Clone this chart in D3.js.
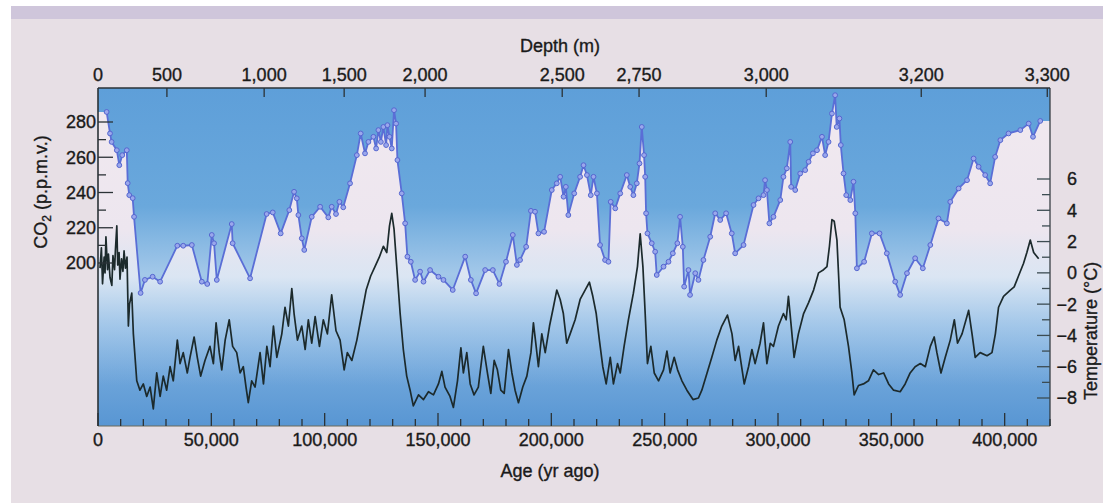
<!DOCTYPE html>
<html>
<head>
<meta charset="utf-8">
<script src="https://cdn.jsdelivr.net/npm/d3@7"></script>
<style>
  html, body { margin: 0; padding: 0; background: #ffffff; }
  svg { display: block; }
  text { font-family: "Liberation Sans", Arial, Helvetica, sans-serif; fill: #1a1a1a;
         stroke: #1a1a1a; stroke-width: 0.35px; }
</style>
</head>
<body>
<svg id="chart" width="1103" height="503"></svg>
<script>
// Vostok ice core record: atmospheric CO2 (dots) and temperature anomaly (black line)
// Ages are in thousands of years before present.

const co2Age = [
  3.8, 5.3, 6.0, 8.3, 9.4, 10.7, 12.7, 13.1, 13.8, 15.3,
  15.9, 18.8, 20.7, 24.1, 27.4, 35.0, 37.6, 41.4, 45.8, 48.2,
  50.2, 51.2, 52.4, 59.0, 59.4, 67.1, 74.4, 77.1, 80.6, 84.4,
  86.5, 87.7, 88.4, 89.9, 91.0, 94.3, 98.0, 101.6, 103.1, 105.0,
  106.5, 108.2, 111.2, 114.2, 115.9, 117.8, 119.3, 121.5, 122.7, 123.7,
  124.8, 125.9, 127.1, 127.7, 128.6, 129.6, 130.6, 131.5, 132.1, 134.0,
  135.5, 136.5, 138.0, 139.9, 142.1, 143.6, 146.5, 150.2, 152.4, 156.5,
  162.0, 164.5, 166.8, 170.8, 174.2, 177.1, 180.0, 183.0, 184.8, 186.2,
  188.9, 191.0, 192.8, 194.3, 196.8, 200.2, 202.4, 203.9, 205.4, 206.4,
  207.5, 210.1, 212.7, 214.2, 215.7, 217.4, 218.6, 220.1, 221.5, 223.7,
  225.2, 226.2, 228.2, 230.4, 233.3, 234.8, 236.2, 237.7, 238.9, 239.9,
  240.9, 241.4, 241.8, 242.4, 244.3, 245.8, 246.5, 249.5, 251.7, 253.6,
  255.6, 256.8, 258.0, 258.6, 260.5, 261.2, 263.5, 264.9, 267.1, 270.1,
  272.3, 274.5, 277.1, 279.6, 281.1, 284.8, 289.2, 291.4, 293.6, 294.3,
  295.1, 296.2, 298.0, 301.0, 302.4, 303.9, 305.4, 305.8, 307.6, 309.8,
  312.0, 313.5, 315.4, 317.2, 319.4, 320.8, 322.3, 323.8, 325.2, 325.9,
  327.1, 327.7, 328.9, 330.1, 331.9, 333.3, 334.1, 334.8, 338.0, 341.4,
  344.8, 348.0, 351.7, 353.9, 356.9, 360.5, 363.9, 367.2, 370.8, 374.5,
  376.0, 379.7, 383.4, 386.3, 388.5, 391.4, 393.6, 395.8, 398.1, 401.7,
  406.9, 410.6, 412.5, 415.7
];

const co2Ppmv = [
  285.7, 273.5, 268.7, 264.0, 255.5, 261.2, 264.0, 245.3, 238.5, 236.8,
  226.2, 183.0, 190.4, 192.2, 189.4, 209.8, 209.8, 210.2, 189.4, 188.1,
  215.9, 211.2, 190.4, 222.1, 211.2, 191.3, 227.8, 228.7, 216.8, 230.0,
  240.4, 236.7, 227.2, 214.0, 207.4, 226.2, 231.9, 225.9, 231.9, 227.8,
  234.7, 231.6, 245.2, 261.2, 273.5, 262.2, 268.7, 271.6, 265.0, 275.4,
  268.7, 277.2, 266.9, 278.2, 271.6, 265.0, 286.7, 279.1, 258.4, 239.5,
  222.5, 203.6, 200.7, 190.4, 195.1, 189.4, 196.0, 192.2, 190.4, 184.7,
  203.6, 190.4, 182.8, 196.0, 196.0, 188.1, 200.7, 215.9, 198.9, 201.7,
  209.2, 229.6, 229.1, 216.8, 217.7, 241.4, 245.2, 248.9, 237.6, 243.2,
  227.2, 239.5, 248.9, 255.5, 249.9, 238.5, 248.9, 239.5, 210.2, 201.7,
  200.7, 234.7, 231.0, 239.5, 249.9, 243.2, 238.5, 245.2, 256.5, 277.2,
  261.2, 248.9, 228.2, 216.8, 211.2, 206.4, 193.2, 197.9, 200.7, 205.5,
  211.2, 226.2, 209.2, 186.6, 196.0, 181.9, 194.2, 190.4, 201.7, 214.9,
  228.2, 224.4, 228.2, 216.8, 205.5, 210.2, 232.9, 236.7, 238.5, 247.0,
  241.4, 222.5, 226.2, 235.7, 248.9, 253.7, 268.7, 243.2, 241.4, 250.8,
  252.7, 257.4, 262.2, 264.0, 271.6, 261.2, 268.7, 284.8, 295.2, 277.2,
  282.0, 266.9, 250.8, 238.5, 235.7, 246.1, 228.2, 197.0, 200.7, 216.8,
  216.8, 205.5, 189.4, 181.9, 194.2, 202.7, 197.0, 210.2, 225.3, 222.5,
  234.7, 242.3, 247.0, 259.3, 254.6, 249.9, 245.2, 260.2, 269.7, 273.5,
  275.4, 279.1, 271.6, 280.6
];

// [age (kyr), temperature (°C)]
const tempSeries = [
  [0.9,0.3],[1.5,1.6],[2.0,-0.7],[2.7,1.0],[3.1,0.0],[3.5,2.3],[4.2,0.2],[4.6,1.2],[5.3,-0.3],[6.1,-0.8],
  [6.6,1.1],[7.3,0.2],[7.7,1.5],[8.3,3.0],[8.7,0.5],[9.3,1.3],[9.7,-0.4],[10.4,0.9],[11.0,0.1],[11.5,1.4],
  [12.1,0.3],[12.8,1.0],[13.4,-3.4],[13.9,-2.0],[14.9,-1.3],[15.6,-3.9],[17.1,-6.9],[18.5,-7.5],[20.0,-7.1],[21.5,-7.9],
  [23.0,-7.3],[24.4,-8.7],[25.9,-6.4],[27.4,-7.9],[28.8,-6.6],[30.3,-7.5],[31.8,-6.0],[33.2,-6.9],[35.0,-4.3],[36.2,-5.8],
  [37.6,-5.1],[39.4,-6.4],[40.6,-5.4],[42.4,-4.1],[43.8,-5.4],[45.3,-6.6],[47.2,-5.6],[49.4,-4.7],[50.9,-5.8],[52.1,-3.2],
  [53.5,-5.1],[54.6,-6.2],[56.1,-4.3],[57.9,-3.0],[59.4,-4.7],[61.2,-5.1],[62.7,-6.4],[64.1,-6.0],[65.3,-7.3],[66.3,-8.3],
  [67.8,-6.9],[69.3,-7.3],[71.5,-5.1],[73.0,-7.1],[74.5,-4.7],[75.9,-6.0],[77.4,-3.4],[78.9,-5.4],[81.1,-3.9],[82.5,-2.2],
  [84.0,-3.4],[85.5,-1.0],[86.5,-2.6],[88.0,-4.3],[89.9,-3.4],[91.4,-4.9],[92.8,-3.0],[94.3,-4.5],[95.8,-2.8],[97.7,-4.7],
  [99.4,-3.0],[101.2,-3.9],[103.1,-1.4],[105.0,-3.7],[106.8,-4.3],[108.6,-6.2],[110.0,-5.1],[112.0,-5.6],[114.2,-4.3],[116.4,-2.6],
  [118.3,-1.1],[120.3,-0.2],[122.2,0.4],[124.1,1.0],[125.9,1.7],[127.4,1.3],[128.6,3.0],[129.6,3.8],[130.6,2.8],[131.8,0.4],
  [133.3,-2.6],[134.7,-4.9],[136.2,-6.6],[137.7,-7.5],[139.1,-8.5],[141.4,-7.8],[143.6,-8.1],[145.8,-7.6],[148.0,-7.8],[150.2,-7.1],
  [151.7,-6.3],[153.1,-7.3],[155.3,-7.9],[156.8,-8.6],[158.6,-6.9],[160.1,-4.8],[161.2,-6.4],[162.7,-5.1],[164.2,-7.1],[165.9,-7.8],
  [167.8,-7.3],[170.0,-4.7],[171.8,-6.4],[173.3,-7.7],[174.8,-5.6],[176.2,-6.2],[177.7,-7.5],[179.2,-7.7],[181.1,-4.9],[182.6,-6.4],
  [184.0,-7.5],[185.5,-8.3],[187.4,-7.3],[189.2,-6.6],[191.0,-5.1],[192.1,-3.2],[193.3,-4.7],[194.3,-6.0],[195.8,-3.9],[197.3,-5.1],
  [199.2,-3.4],[200.9,-2.2],[202.4,-1.1],[203.9,-1.7],[205.3,-2.6],[206.8,-4.5],[208.3,-3.9],[210.5,-3.0],[212.7,-1.7],[214.9,-1.1],
  [216.8,-0.6],[218.3,-1.5],[219.8,-2.6],[221.2,-4.3],[222.7,-6.0],[224.2,-7.1],[226.0,-5.4],[227.4,-7.1],[229.2,-5.8],[230.4,-6.4],
  [232.1,-4.7],[234.0,-3.0],[236.2,-1.3],[238.0,0.4],[239.2,2.5],[240.4,0.4],[241.4,-2.6],[242.4,-5.8],[243.9,-4.7],[245.4,-6.4],
  [247.3,-6.9],[249.5,-6.2],[251.0,-5.0],[252.4,-6.4],[254.2,-5.4],[255.7,-6.2],[257.6,-6.9],[259.8,-7.5],[262.5,-8.1],[264.9,-8.0],
  [266.4,-7.5],[268.3,-6.6],[270.8,-5.4],[273.0,-4.3],[275.2,-3.4],[277.7,-2.7],[279.7,-3.9],[281.1,-5.6],[282.6,-4.7],[285.1,-7.1],
  [287.0,-6.0],[288.5,-4.9],[289.9,-5.8],[292.1,-4.5],[293.6,-3.2],[295.1,-5.8],[296.6,-4.5],[298.0,-4.7],[300.2,-3.4],[302.4,-2.6],
  [303.6,-3.0],[304.6,-1.5],[305.7,-3.2],[307.1,-5.4],[309.0,-3.9],[311.3,-2.6],[313.5,-1.9],[315.7,-1.1],[317.9,0.0],[320.1,0.2],
  [321.6,0.4],[322.7,1.7],[323.8,3.4],[324.8,3.3],[326.0,2.1],[327.4,-2.2],[329.2,-3.0],[331.1,-4.7],[332.6,-6.4],[333.6,-7.8],
  [335.5,-7.2],[337.7,-7.1],[339.9,-6.9],[342.1,-6.2],[344.4,-6.5],[346.6,-6.4],[348.8,-7.1],[351.0,-7.5],[353.9,-7.6],[356.1,-7.1],
  [358.3,-6.4],[360.5,-6.0],[362.8,-5.8],[365.0,-6.0],[367.2,-4.7],[368.9,-4.1],[370.1,-5.1],[371.9,-6.4],[373.8,-5.4],[376.0,-4.3],
  [377.8,-3.0],[379.2,-4.5],[381.2,-3.9],[384.1,-2.4],[385.6,-3.9],[387.0,-5.4],[389.2,-5.1],[392.2,-5.3],[394.4,-5.1],[395.9,-3.9],
  [397.3,-2.2],[399.5,-1.5],[402.5,-1.1],[404.2,-0.9],[406.1,-0.2],[408.3,0.6],[409.8,1.3],[411.3,2.1],[412.8,1.3],[415.0,0.9]
];

const ageTicks = [0, 50000, 100000, 150000, 200000, 250000, 300000, 350000, 400000];
const depthLabels = ["0", "500", "1,000", "1,500", "2,000", "2,500", "2,750", "3,000", "3,200", "3,300"];
const depthAges = [0, 30400, 73300, 108600, 144300, 204800, 238700, 294800, 363200, 418800]; // yr BP at each depth
const co2Ticks = [200, 210, 220, 230, 240, 250, 260, 270, 280];
const co2Labeled = [200, 220, 240, 260, 280];
const tempTicks = [-8, -7, -6, -5, -4, -3, -2, -1, 0, 1, 2, 3, 4, 5, 6];
const tempLabeled = [-8, -6, -4, -2, 0, 2, 4, 6];

const W = 1103, H = 503;
const plot = { left: 98, right: 1050, top: 88, bottom: 426 };

const svg = d3.select("#chart");

const x = d3.scaleLinear().domain([0, 420000]).range([plot.left, plot.right]);
const yCO2 = d3.scaleLinear().domain([200, 280]).range([263, 122]);
const yT = d3.scaleLinear().domain([-8, 6]).range([398, 179]);

const co2Data = co2Age.map((a, i) => ({ age: a * 1000, v: co2Ppmv[i] }));
const tempData = tempSeries.map(d => ({ age: d[0] * 1000, v: d[1] }));

// ---- paper ----
svg.append("rect").attr("width", W).attr("height", H).attr("fill", "#ffffff");
svg.append("rect").attr("x", 11).attr("y", 6).attr("width", W - 11).attr("height", H - 6).attr("fill", "#e7dfe5");
svg.append("rect").attr("x", 11).attr("y", 6).attr("width", W - 11).attr("height", 13).attr("fill", "#cfc6db");

// ---- gradients ----
const defs = svg.append("defs");
const bg = defs.append("linearGradient").attr("id", "plotBg")
  .attr("gradientUnits", "userSpaceOnUse")
  .attr("x1", 0).attr("x2", 0).attr("y1", plot.top).attr("y2", plot.bottom);
[[0, "#5e9fd9"], [0.35, "#6aa8dc"], [0.55, "#a3c8e9"], [0.7, "#85b5e2"], [1, "#5896d3"]]
  .forEach(([o, c]) => bg.append("stop").attr("offset", o).attr("stop-color", c));

const fillG = defs.append("linearGradient").attr("id", "co2Fill")
  .attr("gradientUnits", "userSpaceOnUse")
  .attr("x1", 0).attr("x2", 0).attr("y1", plot.top).attr("y2", plot.bottom);
[[0, "#f1e9ef", 1], [0.42, "#ede6ef", 1], [0.56, "#dfe8f4", 0.92], [0.7, "#bcd6ef", 0.55], [0.88, "#a0c5ea", 0]]
  .forEach(([o, c, a]) => fillG.append("stop").attr("offset", o).attr("stop-color", c).attr("stop-opacity", a));

defs.append("clipPath").attr("id", "plotClip").append("rect")
  .attr("x", plot.left).attr("y", plot.top)
  .attr("width", plot.right - plot.left).attr("height", plot.bottom - plot.top);

// ---- plot area ----
svg.append("rect")
  .attr("x", plot.left).attr("y", plot.top)
  .attr("width", plot.right - plot.left).attr("height", plot.bottom - plot.top)
  .attr("fill", "url(#plotBg)");

const g = svg.append("g").attr("clip-path", "url(#plotClip)");

// light fill beneath the CO2 curve, carried out to both plot edges
const areaData = [{ age: x.domain()[0], v: co2Data[0].v }, ...co2Data,
                  { age: x.domain()[1], v: co2Data[co2Data.length - 1].v }];
g.append("path").datum(areaData)
  .attr("fill", "url(#co2Fill)")
  .attr("d", d3.area().x(d => x(d.age)).y0(plot.bottom).y1(d => yCO2(d.v)));

// temperature
g.append("path").datum(tempData)
  .attr("fill", "none").attr("stroke", "#1c2a2c").attr("stroke-width", 1.7)
  .attr("stroke-linejoin", "round")
  .attr("d", d3.line().x(d => x(d.age)).y(d => yT(d.v)));

// CO2
g.append("path").datum(co2Data)
  .attr("fill", "none").attr("stroke", "#5a6ed6").attr("stroke-width", 1.8)
  .attr("stroke-linejoin", "round")
  .attr("d", d3.line().x(d => x(d.age)).y(d => yCO2(d.v)));
g.selectAll("circle.co2").data(co2Data).join("circle")
  .attr("class", "co2")
  .attr("cx", d => x(d.age)).attr("cy", d => yCO2(d.v)).attr("r", 2.4)
  .attr("fill", "#9aa7ec").attr("stroke", "#5566cf").attr("stroke-width", 1);

// ---- frame ----
const axisColor = "#2b3236";
svg.append("line").attr("x1", plot.left).attr("x2", plot.right).attr("y1", plot.top).attr("y2", plot.top)
  .attr("stroke", axisColor).attr("stroke-width", 1.6);
svg.append("line").attr("x1", plot.left).attr("x2", plot.right).attr("y1", plot.bottom).attr("y2", plot.bottom)
  .attr("stroke", "#6a6a5a").attr("stroke-width", 1);
svg.append("line").attr("x1", plot.left).attr("x2", plot.left).attr("y1", plot.top).attr("y2", plot.bottom)
  .attr("stroke", axisColor).attr("stroke-width", 1.6);
svg.append("line").attr("x1", plot.right).attr("x2", plot.right).attr("y1", plot.top).attr("y2", plot.bottom)
  .attr("stroke", axisColor).attr("stroke-width", 1.2);

const FS = 18;

// bottom: age
const ageMinor = d3.range(0, 420001, 10000);
svg.append("g").selectAll("line").data(ageMinor).join("line")
  .attr("x1", d => x(d)).attr("x2", d => x(d))
  .attr("y1", plot.bottom).attr("y2", d => plot.bottom - (d % 50000 === 0 ? 13 : 7))
  .attr("stroke", axisColor).attr("stroke-width", 1.3);
svg.append("g").selectAll("text").data(ageTicks).join("text")
  .attr("x", d => x(d)).attr("y", 446).attr("text-anchor", "middle")
  .attr("font-size", FS).text(d => d3.format(",")(d));
svg.append("text").attr("x", 550).attr("y", 477).attr("text-anchor", "middle")
  .attr("font-size", FS).text("Age (yr ago)");

// top: depth
svg.append("g").selectAll("line").data(depthAges.slice(1)).join("line")
  .attr("x1", d => x(d)).attr("x2", d => x(d))
  .attr("y1", plot.top).attr("y2", plot.top + 9)
  .attr("stroke", axisColor).attr("stroke-width", 1.3);
svg.append("g").selectAll("text").data(depthAges).join("text")
  .attr("x", d => x(d)).attr("y", 81).attr("text-anchor", "middle")
  .attr("font-size", FS).text((d, i) => depthLabels[i]);
svg.append("text").attr("x", 560).attr("y", 52).attr("text-anchor", "middle")
  .attr("font-size", FS).text("Depth (m)");

// left: CO2
svg.append("g").selectAll("line").data(co2Ticks).join("line")
  .attr("x1", plot.left).attr("x2", d => plot.left + (co2Labeled.includes(d) ? 15 : 8))
  .attr("y1", d => yCO2(d)).attr("y2", d => yCO2(d))
  .attr("stroke", axisColor).attr("stroke-width", 1.3);
svg.append("g").selectAll("text").data(co2Labeled).join("text")
  .attr("x", 96).attr("y", d => yCO2(d)).attr("dy", "0.36em").attr("text-anchor", "end")
  .attr("font-size", FS).text(d => d);
const co2Title = svg.append("text")
  .attr("transform", "translate(47,192) rotate(-90)")
  .attr("text-anchor", "middle").attr("font-size", FS);
co2Title.append("tspan").text("CO");
co2Title.append("tspan").attr("font-size", 12).attr("dy", 4).text("2");
co2Title.append("tspan").attr("dy", -4).text(" (p.p.m.v.)");

// right: temperature
svg.append("g").selectAll("line").data(tempTicks).join("line")
  .attr("x1", plot.right).attr("x2", d => plot.right - (tempLabeled.includes(d) ? 13 : 8))
  .attr("y1", d => yT(d)).attr("y2", d => yT(d))
  .attr("stroke", "#3c4c52").attr("stroke-width", 1.3);
svg.append("g").selectAll("text").data(tempLabeled).join("text")
  .attr("x", 1077).attr("y", d => yT(d)).attr("dy", "0.36em").attr("text-anchor", "end")
  .attr("font-size", FS).text(d => d3.format("d")(d));
svg.append("text")
  .attr("transform", "translate(1097,331) rotate(-90)")
  .attr("text-anchor", "middle").attr("font-size", FS).text("Temperature (°C)");
</script>
</body>
</html>
